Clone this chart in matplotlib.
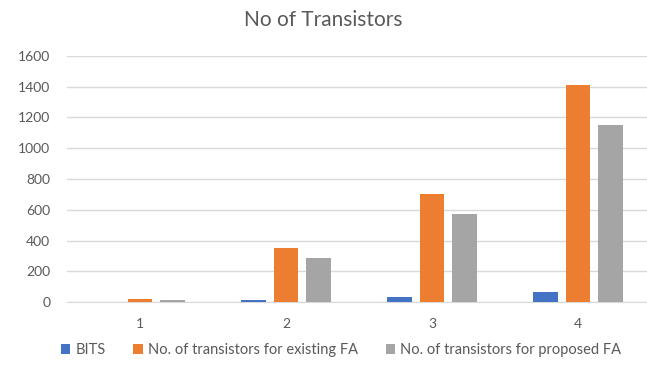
import numpy as np
import matplotlib
matplotlib.use("Agg")
from matplotlib import pyplot as plt

plt.rcParams['font.family'] = ['Lato', 'DejaVu Sans']

categories = ['1', '2', '3', '4']
bits = [1, 16, 32, 64]
existing_fa = [22, 352, 704, 1408]
proposed_fa = [18, 288, 576, 1152]

series = [
    ('BITS', bits, '#4472C4'),
    ('No. of transistors for existing FA', existing_fa, '#ED7D31'),
    ('No. of transistors for proposed FA', proposed_fa, '#A5A5A5'),
]

fig = plt.figure(figsize=(6.47, 3.71), dpi=100)
ax = fig.add_axes([67 / 647, 1 - 302.3 / 371, 584 / 647, 246.6 / 371])

x = np.arange(len(categories))
width = 0.17
step = 0.223
for i, (label, vals, color) in enumerate(series):
    ax.bar(x + (i - 1) * step, vals, width, color=color, label=label, zorder=3)

ax.set_xlim(-0.5, 3.5)
ax.set_ylim(0, 1600)
ax.set_yticks(range(0, 1601, 200))
ax.set_xticks(x)
ax.set_xticklabels(categories)
ax.grid(axis='y', color='#D9D9D9', linewidth=1, zorder=0)
for side in ['top', 'right', 'left']:
    ax.spines[side].set_visible(False)
ax.spines['bottom'].set_color('#D9D9D9')
ax.tick_params(axis='both', length=0, labelsize=10, labelcolor='#595959')
ax.tick_params(axis='y', pad=12)
ax.tick_params(axis='x', pad=11)

fig.text(0.5, 1 - 20 / 371, 'No of Transistors', ha='center', va='center',
         fontsize=15, color='#595959')

fig.legend(loc='center', bbox_to_anchor=(0.527, 1 - 350 / 371), ncol=3, frameon=False,
           fontsize=10.5, labelcolor='#595959', handlelength=0.65, handleheight=0.65,
           handletextpad=0.35, columnspacing=1.9)

fig.savefig('out.png', dpi=100)
